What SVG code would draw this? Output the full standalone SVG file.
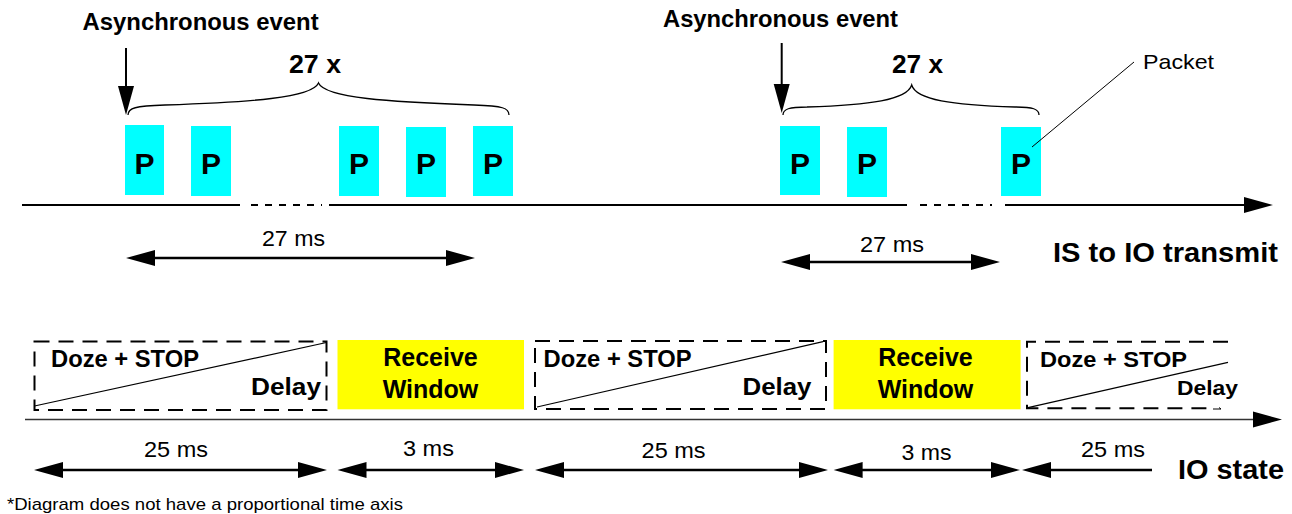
<svg xmlns="http://www.w3.org/2000/svg" width="1292" height="514" viewBox="0 0 1292 514">
<style>
text{font-family:"Liberation Sans",Arial,Helvetica,sans-serif;fill:#000}
.b{font-weight:bold}
.pk{fill:#00FFFF}
.pt{font-weight:bold;font-size:30px;text-anchor:middle}
.rw{fill:#FFFF00}
.rt{font-weight:bold;font-size:25px;text-anchor:middle}
.dash{fill:none;stroke:#000;stroke-width:2;stroke-dasharray:15 9}
.diag{fill:none;stroke:#000;stroke-width:1.2}
.brace{fill:none;stroke:#000;stroke-width:1.3}
.dim{stroke:#000;stroke-width:2.5;fill:none}
.axis{stroke:#000;stroke-width:2;fill:none}
.dots{stroke:#000;stroke-width:2;stroke-dasharray:7 7;fill:none}
</style>
<defs>
<marker id="ah" markerUnits="userSpaceOnUse" markerWidth="30" markerHeight="18" viewBox="0 0 30 18" refX="19" refY="9" orient="auto-start-reverse">
<path d="M0,1 L29,9 L0,17 z" fill="#000"/>
</marker>
</defs>

<g id="labels-top">
<text class="b" x="82.6" y="29.5" font-size="24" textLength="236" lengthAdjust="spacingAndGlyphs">Asynchronous event</text>
<text class="b" x="663" y="27" font-size="24" textLength="235" lengthAdjust="spacingAndGlyphs">Asynchronous event</text>
<text class="b" x="289" y="72.7" font-size="25" textLength="52" lengthAdjust="spacingAndGlyphs">27 x</text>
<text class="b" x="892" y="73" font-size="25" textLength="51" lengthAdjust="spacingAndGlyphs">27 x</text>
<text x="1143" y="69" font-size="21" textLength="71" lengthAdjust="spacingAndGlyphs">Packet</text>
<text x="262" y="246" font-size="22" textLength="63" lengthAdjust="spacingAndGlyphs">27 ms</text>
<text x="860" y="252" font-size="22" textLength="64" lengthAdjust="spacingAndGlyphs">27 ms</text>
<text class="b" x="1053" y="261.7" font-size="28" textLength="225" lengthAdjust="spacingAndGlyphs">IS to IO transmit</text>
</g>

<g id="packets">
<g id="p1"><rect class="pk" x="125" y="125" width="39" height="70"/><text class="pt" x="144.5" y="174">P</text></g>
<g id="p2"><rect class="pk" x="191" y="126" width="40" height="70"/><text class="pt" x="211" y="174">P</text></g>
<g id="p3"><rect class="pk" x="339" y="126" width="40" height="70"/><text class="pt" x="359" y="174">P</text></g>
<g id="p4"><rect class="pk" x="406" y="127" width="40" height="70"/><text class="pt" x="426" y="174">P</text></g>
<g id="p5"><rect class="pk" x="473" y="126" width="40" height="70"/><text class="pt" x="493" y="174">P</text></g>
<g id="p6"><rect class="pk" x="780" y="126" width="40" height="69"/><text class="pt" x="800" y="174">P</text></g>
<g id="p7"><rect class="pk" x="847" y="127" width="40" height="70"/><text class="pt" x="867" y="174">P</text></g>
<g id="p8"><rect class="pk" x="1001" y="127" width="40" height="69"/><text class="pt" x="1021" y="174">P</text></g>
</g>

<g id="states">
<g id="doze1">
<rect class="dash" x="34.5" y="341.5" width="292" height="68.5"/>
<line class="diag" x1="34.5" y1="406" x2="326.5" y2="342.5"/>
<text class="b" x="51" y="366.7" font-size="23" textLength="148" lengthAdjust="spacingAndGlyphs">Doze + STOP</text>
<text class="b" x="251" y="395" font-size="24" textLength="70" lengthAdjust="spacingAndGlyphs">Delay</text>
</g>
<g id="rw1">
<rect class="rw" x="337.5" y="340" width="186.5" height="69.3"/>
<text class="rt" x="430.5" y="365.7">Receive</text>
<text class="rt" x="430.5" y="397.7">Window</text>
</g>
<g id="doze2">
<rect class="dash" x="535" y="341" width="291" height="68"/>
<line class="diag" x1="537" y1="407" x2="823" y2="341.7"/>
<text class="b" x="543.6" y="366.7" font-size="23" textLength="148" lengthAdjust="spacingAndGlyphs">Doze + STOP</text>
<text class="b" x="742.5" y="395" font-size="24" textLength="69" lengthAdjust="spacingAndGlyphs">Delay</text>
</g>
<g id="rw2">
<rect class="rw" x="833.6" y="340" width="187" height="69.3"/>
<text class="rt" x="925.5" y="365.7">Receive</text>
<text class="rt" x="925.5" y="397.7">Window</text>
</g>
<g id="doze3">
<path class="dash" d="M1228,341.7 H1027 V408.3 H1210"/>
<line class="diag" x1="1028" y1="407.7" x2="1228" y2="362.3"/>
<path d="M1213,409 H1221 l-2,-1.5" fill="none" stroke="#000" stroke-width="1"/>
<text class="b" x="1040" y="366.7" font-size="22" textLength="147" lengthAdjust="spacingAndGlyphs">Doze + STOP</text>
<text class="b" x="1177" y="395" font-size="21" textLength="61" lengthAdjust="spacingAndGlyphs">Delay</text>
</g>
</g>

<g id="labels-bottom">
<text x="144" y="456.7" font-size="22" textLength="64" lengthAdjust="spacingAndGlyphs">25 ms</text>
<text x="403" y="455.7" font-size="22" textLength="51" lengthAdjust="spacingAndGlyphs">3 ms</text>
<text x="641.6" y="458" font-size="22" textLength="64" lengthAdjust="spacingAndGlyphs">25 ms</text>
<text x="901.6" y="460" font-size="22" textLength="50" lengthAdjust="spacingAndGlyphs">3 ms</text>
<text x="1081" y="456.7" font-size="22" textLength="64" lengthAdjust="spacingAndGlyphs">25 ms</text>
<text class="b" x="1178" y="479.3" font-size="28" textLength="106" lengthAdjust="spacingAndGlyphs">IO state</text>
<text x="7" y="510" font-size="17" textLength="396" lengthAdjust="spacingAndGlyphs">*Diagram does not have a proportional time axis</text>
</g>

<g id="connectors">
<line class="axis" x1="126" y1="48" x2="126" y2="105" marker-end="url(#ah)"/>
<line class="axis" x1="781.7" y1="43" x2="781.7" y2="103" marker-end="url(#ah)"/>
<path class="brace" d="M128,115 C128,108 135,106 165,105 C250,102 312,98 318.5,83 C325,98 390,102 474,105 C503,106 509,108 509,115"/>
<path class="brace" d="M783,115 C783,109 789,107 807,107 C870,105 907,100 911.7,85 C916,100 952,105 1015,107 C1033,107 1039,109 1039,115"/>
<line x1="1134" y1="62" x2="1032" y2="147" stroke="#000" stroke-width="1"/>
<line class="axis" x1="22" y1="205" x2="240" y2="205"/>
<line class="dots" x1="251" y1="205" x2="322" y2="205"/>
<line class="axis" x1="329" y1="205" x2="907" y2="205"/>
<line class="dots" x1="920" y1="205" x2="992" y2="205"/>
<line class="axis" x1="1005" y1="205" x2="1263" y2="205" marker-end="url(#ah)"/>
<line class="dim" x1="136" y1="258" x2="465" y2="258" marker-start="url(#ah)" marker-end="url(#ah)"/>
<line class="dim" x1="791" y1="262" x2="990" y2="262" marker-start="url(#ah)" marker-end="url(#ah)"/>
<line x1="25" y1="419.5" x2="1272" y2="419.5" stroke="#333" stroke-width="1.6" marker-end="url(#ah)"/>
<line class="dim" x1="44" y1="470" x2="317" y2="470" marker-start="url(#ah)" marker-end="url(#ah)"/>
<line class="dim" x1="347.5" y1="470" x2="514" y2="470" marker-start="url(#ah)" marker-end="url(#ah)"/>
<line class="dim" x1="545" y1="470" x2="818" y2="470" marker-start="url(#ah)" marker-end="url(#ah)"/>
<line class="dim" x1="843.6" y1="470" x2="1010" y2="470" marker-start="url(#ah)" marker-end="url(#ah)"/>
<line class="dim" x1="1032" y1="470" x2="1152" y2="470" marker-start="url(#ah)"/>
</g>
</svg>
